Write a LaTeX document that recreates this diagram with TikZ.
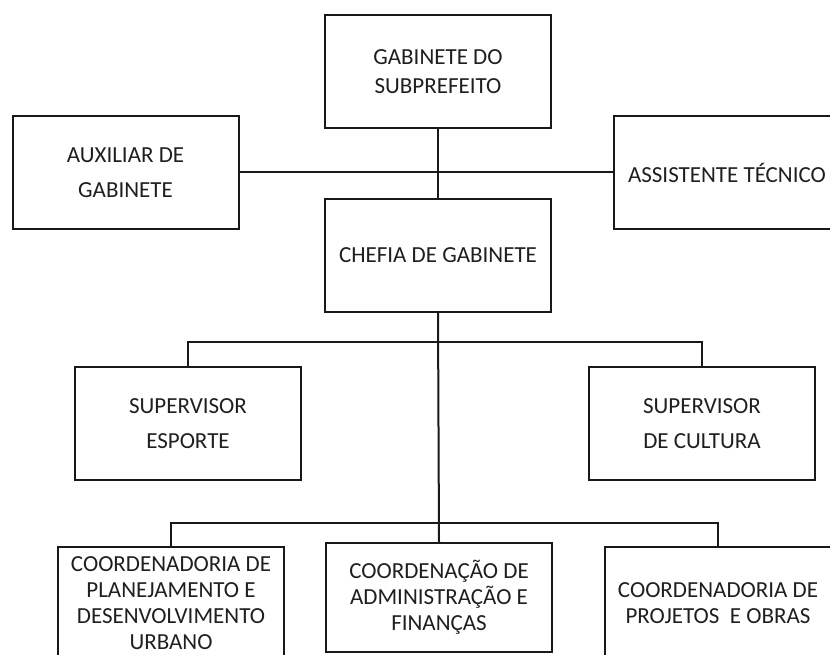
\documentclass[tikz,border=0pt]{standalone}
\usepackage{fontspec}
\setmainfont{Carlito}
\begin{document}
\begin{tikzpicture}[x=1pt, y=-1pt, line width=2pt]
\tikzset{
	cargo/.style={draw=black!90, align=center, text=black!88, inner sep=0pt, minimum width=226pt, minimum height=113pt, font=\fontsize{23}{35}\selectfont},
	coord/.style={cargo, font=\fontsize{23}{26}\selectfont},
	elo/.style={draw=black!90}
}
\useasboundingbox (0,0) rectangle (830,655);
\clip (0,0) rectangle (830,655);

% Top level
\node[cargo, font=\fontsize{23}{29}\selectfont] (gab) at (438,71.5)
{GABINETE DO\\SUBPREFEITO};
\node[cargo] (aux) at (125.5,172.5)
{AUXILIAR DE\\GABINETE};
\node[cargo] (assist) at (727,172.5)
{ASSISTENTE T\'ECNICO};
\node[cargo] (chefia) at (438,255.5)
{CHEFIA DE GABINETE};

% Supervisors
\node[cargo] (supesp) at (188,423.5)
{SUPERVISOR\\ESPORTE};
\node[cargo] (supcult) at (702,423.5)
{SUPERVISOR\\DE CULTURA};

% Coordinations
\node[coord] (coordplan) at (171,603)
{COORDENADORIA DE\\PLANEJAMENTO E\\DESENVOLVIMENTO\\URBANO};
\node[coord, minimum height=109pt] (coordadm) at (439,597.5)
{COORDENA\c{C}\~AO DE\\ADMINISTRA\c{C}\~AO E\\FINAN\c{C}AS};
\node[coord] (coordobras) at (718,603.5)
{COORDENADORIA DE\\PROJETOS\ \ E OBRAS};

% Connectors
\draw[elo] (gab.south) -- (chefia.north);
\draw[elo] (aux.east) -- (assist.west);
\draw[elo] (chefia.south) -- (coordadm.north);
\draw[elo] (supesp.north) -- ++(0,-24) -| (supcult.north);
\draw[elo] (coordplan.north) -- ++(0,-23) -| (coordobras.north);

\end{tikzpicture}
\end{document}
